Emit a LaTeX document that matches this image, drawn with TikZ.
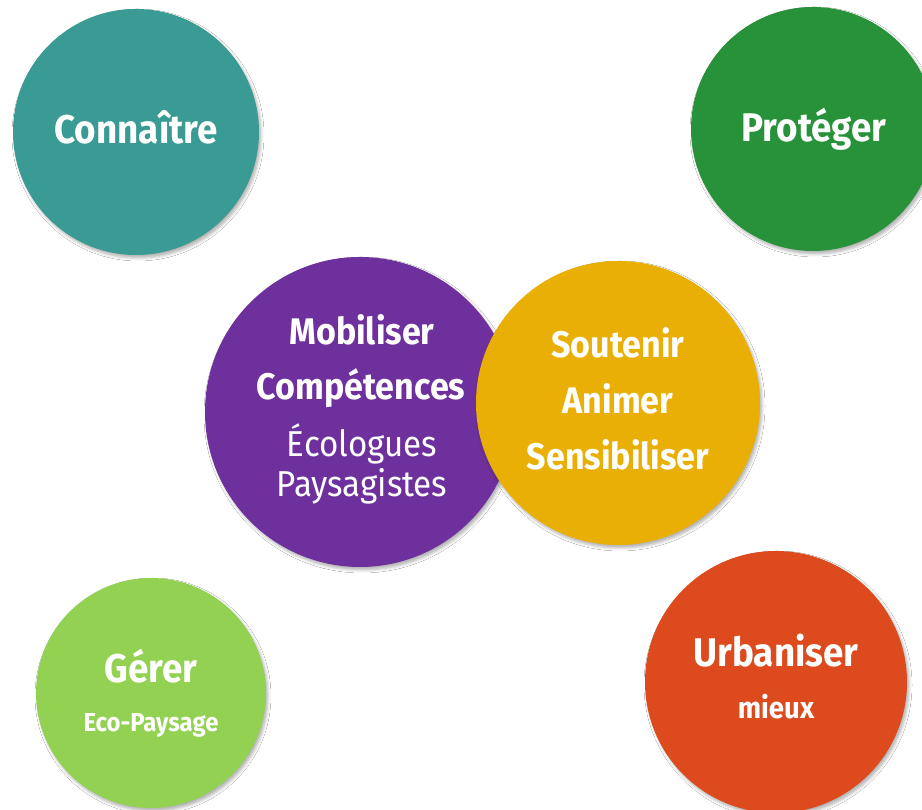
\documentclass[tikz,border=0pt]{standalone}
\usepackage{fontspec}
\usetikzlibrary{shadows.blur}
\newfontfamily\labelfont[FakeStretch=0.92]{Fira Sans}
\definecolor{cteal}{HTML}{3A9A94}
\definecolor{cgreen}{HTML}{28923A}
\definecolor{cpurple}{HTML}{6E309D}
\definecolor{cyellow}{HTML}{E9AF05}
\definecolor{clime}{HTML}{93D152}
\definecolor{cred}{HTML}{DC4A1E}
\tikzset{
  disc/.style={circle, inner sep=0pt, minimum size=#1, draw=none,
    blur shadow={shadow xshift=2pt, shadow yshift=-3pt, shadow opacity=30, shadow blur radius=3pt}},
  bigword/.style={anchor=base, text=white, font=\labelfont\bfseries\fontsize{40}{44}\selectfont},
  midword/.style={anchor=base, text=white, font=\labelfont\bfseries\fontsize{37}{40}\selectfont},
  thinword/.style={anchor=base, text=white, font=\labelfont\fontsize{36}{40}\selectfont},
  smallword/.style={anchor=base, text=white, font=\labelfont\bfseries\fontsize{26}{30}\selectfont},
}
\begin{document}
\begin{tikzpicture}[x=1pt, y=1pt]
  \clip (0,0) rectangle (922,810);
  \fill[white] (0,0) rectangle (922,810);
  % circles
  \node[disc=246pt, fill=cteal]   (know)    at (136,678) {};
  \node[disc=244pt, fill=cgreen]  (protect) at (813,681) {};
  \node[disc=310pt, fill=cpurple] (mobil)   at (360,398) {};
  \node[disc=284pt, fill=cyellow] (support) at (618,407) {};
  \node[disc=230pt, fill=clime]   (manage)  at (151,117) {};
  \node[disc=262pt, fill=cred]    (urban)   at (776,128) {};
  % labels
  \node[bigword] (tknow) at (136,666) {Connaître};
  \node[bigword] (tprotect) at (814,668) {Protéger};
  \node[midword] (tmob) at (362,465) {Mobiliser};
  \node[midword] (tcomp) at (361,410) {Compétences};
  \node[thinword] (teco) at (362,353) {Écologues};
  \node[thinword] (tpay) at (362,313) {Paysagistes};
  \node[midword] (tsout) at (618,452) {Soutenir};
  \node[midword] (tanim) at (618,396) {Animer};
  \node[midword] (tsens) at (618,340) {Sensibiliser};
  \node[bigword] (tger) at (151,127) {Gérer};
  \node[smallword] (tecop) at (151,78) {Eco-Paysage};
  \node[bigword] (turb) at (776,143) {Urbaniser};
  \node[smallword, font=\labelfont\bfseries\fontsize{30}{34}\selectfont] (tmieux) at (776,91) {mieux};
\end{tikzpicture}
\end{document}
